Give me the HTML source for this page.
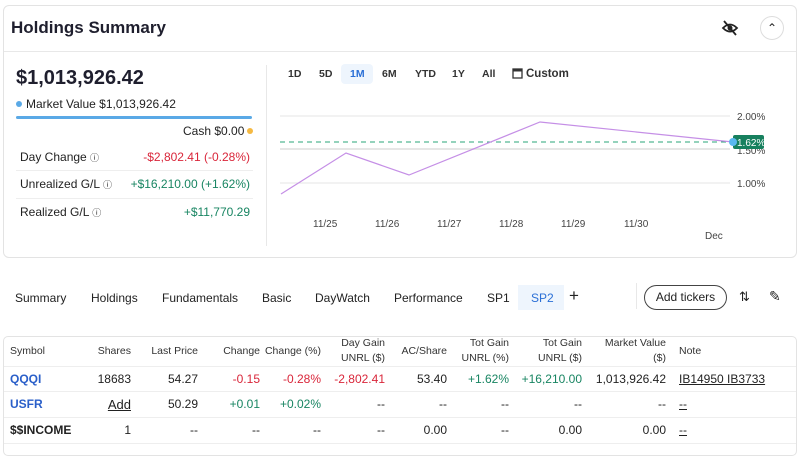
<!DOCTYPE html>
<html><head><meta charset="utf-8"><style>
*{margin:0;padding:0;box-sizing:border-box}
body{width:800px;height:448px;background:#fff;font-family:"Liberation Sans",sans-serif;color:#222;position:relative;overflow:hidden;font-size:12px}
.a{position:absolute;white-space:nowrap}
.r{text-align:right}
.red{color:#d9263a}.grn{color:#188562}
.hdr{font-size:10.5px;color:#333;line-height:15px}
</style></head><body>
<div class="a" style="left:3px;top:5px;width:794px;height:253px;border:1px solid #e3e3e3;border-radius:6px"></div>
<div class="a" style="left:4px;top:51px;width:792px;height:1px;background:#e8e8e8"></div>
<div class="a" style="left:11px;top:18px;font-size:17px;font-weight:bold;color:#1f1f2e">Holdings Summary</div>
<svg class="a" style="left:721px;top:20px" width="18" height="16" viewBox="0 0 18 16"><path d="M2 8 Q9 1 16 8 Q9 15 2 8Z" fill="none" stroke="#222" stroke-width="1.8"/><circle cx="9" cy="8" r="2.5" fill="#222"/><line x1="3" y1="1" x2="15" y2="15" stroke="#222" stroke-width="1.8"/></svg>
<div class="a" style="left:760px;top:16px;width:24px;height:24px;border:1px solid #ddd;border-radius:12px;text-align:center;line-height:22px;font-size:12px">&#8963;</div>
<div class="a" style="left:16px;top:67px;font-size:20px;font-weight:bold;color:#1f1f2e">$1,013,926.42</div>
<div class="a" style="left:16px;top:101px;width:6px;height:6px;border-radius:3px;background:#5aa9e6"></div>
<div class="a" style="left:26px;top:97px;font-size:12px">Market Value $1,013,926.42</div>
<div class="a" style="left:16px;top:116px;width:236px;height:3px;background:#5aa9e6;border-radius:2px"></div>
<div class="a" style="left:183px;top:124px;font-size:12px">Cash $0.00</div>
<div class="a" style="left:247px;top:128px;width:6px;height:6px;border-radius:3px;background:#f5b942"></div>
<div class="a" style="left:20px;top:150px">Day Change <span style="font-size:9px">ⓘ</span></div>
<div class="a r red" style="right:550px;top:150px">-$2,802.41 (-0.28%)</div>
<div class="a" style="left:16px;top:170px;width:237px;height:1px;background:#eee"></div>
<div class="a" style="left:20px;top:177px">Unrealized G/L <span style="font-size:9px">ⓘ</span></div>
<div class="a r grn" style="right:550px;top:177px">+$16,210.00 (+1.62%)</div>
<div class="a" style="left:16px;top:198px;width:237px;height:1px;background:#eee"></div>
<div class="a" style="left:20px;top:205px">Realized G/L <span style="font-size:9px">ⓘ</span></div>
<div class="a r grn" style="right:550px;top:205px">+$11,770.29</div>
<div class="a" style="left:266px;top:65px;width:1px;height:181px;background:#e8e8e8"></div>
<div class="a" style="left:341px;top:64px;width:32px;height:20px;background:#eef5fd;border-radius:4px"></div>
<div class="a" style="top:68px;left:0;font-size:10.5px;font-weight:bold;color:#333">
<span class="a" style="left:288px">1D</span><span class="a" style="left:319px">5D</span><span class="a" style="left:350px;color:#2a6fd6">1M</span><span class="a" style="left:382px">6M</span><span class="a" style="left:415px">YTD</span><span class="a" style="left:452px">1Y</span><span class="a" style="left:482px">All</span><span class="a" style="left:526px;font-size:11.5px">Custom</span></div>
<svg class="a" style="left:512px;top:67px" width="11" height="12"><rect x="1" y="2" width="9" height="9" fill="none" stroke="#333" stroke-width="1.3"/><rect x="1" y="2" width="9" height="2.5" fill="#333"/></svg>
<svg class="a" style="left:0;top:0" width="800" height="260">
<g stroke="#e6e6e6"><line x1="280" y1="116" x2="730" y2="116"/><line x1="280" y1="149" x2="730" y2="149" stroke-width="2"/><line x1="280" y1="183" x2="730" y2="183"/></g>
<line x1="280" y1="142" x2="735" y2="142" stroke="#2aa57a" stroke-dasharray="5,4" stroke-width="1"/>
<polyline points="281,194 346,153 409,175 540,122 733,142" fill="none" stroke="#c58fe6" stroke-width="1.2"/>
<g font-size="10" fill="#444" font-family="Liberation Sans"><text x="737" y="120">2.00%</text><text x="737" y="154">1.50%</text><text x="737" y="187">1.00%</text>
<text x="313" y="227">11/25</text><text x="375" y="227">11/26</text><text x="437" y="227">11/27</text><text x="499" y="227">11/28</text><text x="561" y="227">11/29</text><text x="624" y="227">11/30</text><text x="705" y="239">Dec</text></g>
<rect x="733" y="135" width="31" height="14" rx="2" fill="#17805e"/><text x="737" y="146" font-size="10" fill="#fff" font-family="Liberation Sans">1.62%</text>
<circle cx="733" cy="142" r="4" fill="#5ab8f0"/>
</svg>
<div class="a" style="top:291px;left:0;font-size:12px;color:#222">
<span class="a" style="left:15px">Summary</span><span class="a" style="left:91px">Holdings</span><span class="a" style="left:162px">Fundamentals</span><span class="a" style="left:262px">Basic</span><span class="a" style="left:315px">DayWatch</span><span class="a" style="left:394px">Performance</span><span class="a" style="left:487px">SP1</span></div>
<div class="a" style="left:518px;top:285px;width:46px;height:25px;background:#eef5fd"></div>
<div class="a" style="left:531px;top:291px;color:#2a6fd6">SP2</div>
<div class="a" style="left:569px;top:286px;font-size:17px">+</div>
<div class="a" style="left:636px;top:293px;width:1px;height:26px;background:#e8e8e8;top:283px"></div>
<div class="a" style="left:644px;top:285px;width:83px;height:25px;border:1px solid #444;border-radius:13px;text-align:center;line-height:23px;font-size:12px">Add tickers</div>
<div class="a" style="left:739px;top:289px;font-size:13px">⇅</div>
<div class="a" style="left:769px;top:288px;font-size:14px">✎</div>
<div class="a" style="left:3px;top:336px;width:794px;height:120px;border:1px solid #e3e3e3;border-radius:5px"></div>
<div class="a" style="left:4px;top:366px;width:792px;height:1px;background:#eee"></div>
<div class="a" style="left:4px;top:391px;width:792px;height:1px;background:#eee"></div>
<div class="a" style="left:4px;top:417px;width:792px;height:1px;background:#eee"></div>
<div class="a" style="left:4px;top:443px;width:792px;height:1px;background:#eee"></div>
<div class="a hdr" style="left:10px;top:344px">Symbol</div>
<div class="a hdr r" style="right:669px;top:344px">Shares</div>
<div class="a hdr r" style="right:602px;top:344px">Last Price</div>
<div class="a hdr r" style="right:540px;top:344px">Change</div>
<div class="a hdr r" style="right:479px;top:344px">Change (%)</div>
<div class="a hdr r" style="right:415px;top:336px">Day Gain<br>UNRL ($)</div>
<div class="a hdr r" style="right:353px;top:344px">AC/Share</div>
<div class="a hdr r" style="right:291px;top:336px">Tot Gain<br>UNRL (%)</div>
<div class="a hdr r" style="right:218px;top:336px">Tot Gain<br>UNRL ($)</div>
<div class="a hdr r" style="right:134px;top:336px">Market Value<br>($)</div>
<div class="a hdr" style="left:679px;top:344px">Note</div>
<div class="a" style="top:372px;left:0;width:800px">
<span class="a" style="left:10px;color:#2a5fc9;font-weight:bold">QQQI</span>
<span class="a" style="right:669px">18683</span><span class="a" style="right:602px">54.27</span><span class="a red" style="right:540px">-0.15</span><span class="a red" style="right:479px">-0.28%</span><span class="a red" style="right:415px">-2,802.41</span><span class="a" style="right:353px">53.40</span><span class="a grn" style="right:291px">+1.62%</span><span class="a grn" style="right:218px">+16,210.00</span><span class="a" style="right:134px">1,013,926.42</span><span class="a" style="left:679px;text-decoration:underline">IB14950 IB3733</span></div>
<div class="a" style="top:397px;left:0;width:800px">
<span class="a" style="left:10px;color:#2a5fc9;font-weight:bold">USFR</span>
<span class="a" style="right:669px;text-decoration:underline;font-size:13px">Add</span><span class="a" style="right:602px">50.29</span><span class="a grn" style="right:540px">+0.01</span><span class="a grn" style="right:479px">+0.02%</span><span class="a" style="right:415px">--</span><span class="a" style="right:353px">--</span><span class="a" style="right:291px">--</span><span class="a" style="right:218px">--</span><span class="a" style="right:134px">--</span><span class="a" style="left:679px;text-decoration:underline">--</span></div>
<div class="a" style="top:423px;left:0;width:800px">
<span class="a" style="left:10px;font-weight:bold">$$INCOME</span>
<span class="a" style="right:669px">1</span><span class="a" style="right:602px">--</span><span class="a" style="right:540px">--</span><span class="a" style="right:479px">--</span><span class="a" style="right:415px">--</span><span class="a" style="right:353px">0.00</span><span class="a" style="right:291px">--</span><span class="a" style="right:218px">0.00</span><span class="a" style="right:134px">0.00</span><span class="a" style="left:679px;text-decoration:underline">--</span></div>
</body></html>
